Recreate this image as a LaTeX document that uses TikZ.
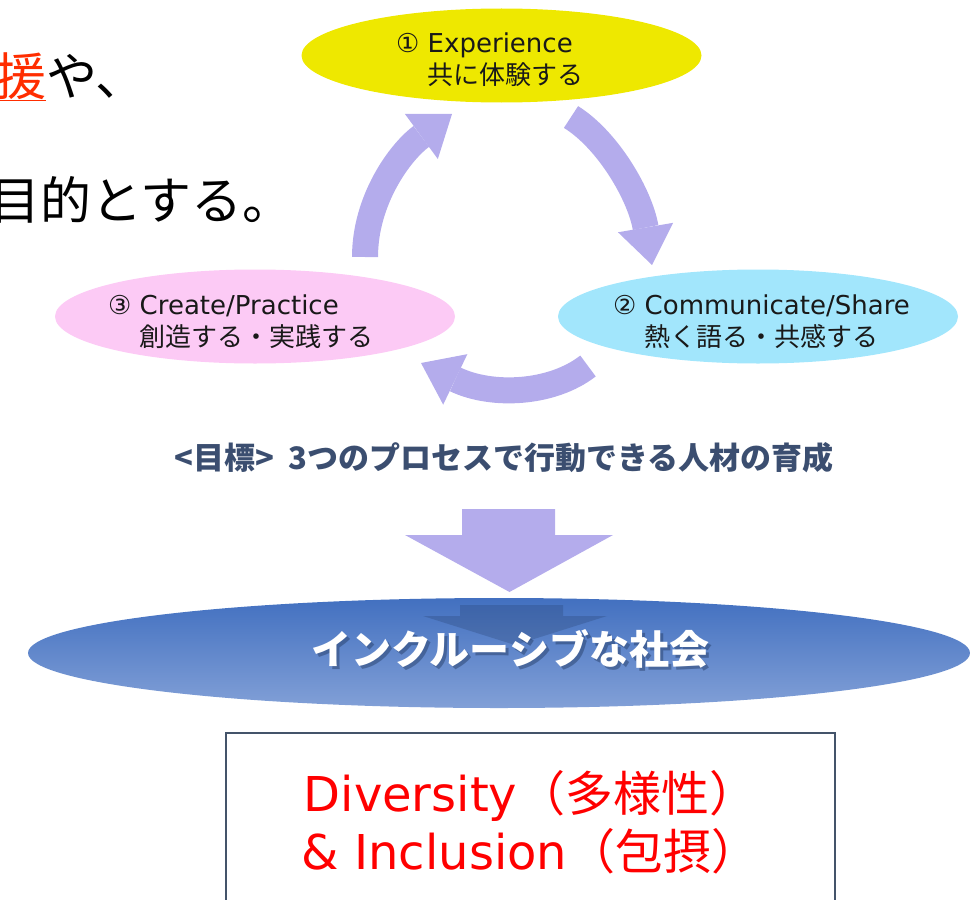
\documentclass[tikz,border=0pt]{standalone}
\usepackage{fontspec}
\usepackage{tikz}
\setmainfont{DejaVu Sans}
\newfontfamily\jp{Noto Sans CJK JP}
\usetikzlibrary{arrows.meta,
	calc,%
	positioning,
	shapes,
	shapes.geometric}
\definecolor{lav}{RGB}{180,172,236}
\definecolor{yel}{RGB}{238,232,0}
\definecolor{pnk}{RGB}{252,202,245}
\definecolor{cya}{RGB}{162,230,252}
\definecolor{navy}{RGB}{59,78,112}
\definecolor{slate}{RGB}{68,84,106}
\definecolor{redor}{RGB}{255,45,0}
\definecolor{btop}{RGB}{66,112,192}
\definecolor{bbot}{RGB}{130,160,215}
\tikzset{
	cyc/.style={ellipse, minimum width=400pt, minimum height=94pt, inner sep=0},
	cyctxt/.style={anchor=west, align=left, inner sep=0, text=black!90, font=\fontsize{26}{32}\selectfont},
	curv/.style={lav, line width=26pt, -{Triangle[length=38pt,width=56pt,line width=0pt]}},
	bigtxt/.style={inner sep=0, font=\jp\fontsize{51}{60}\selectfont, anchor=base east}
}
\begin{document}
\begin{tikzpicture}[x=1pt,y=-1pt]
	\useasboundingbox (0,0) rectangle (971,899);

	\node[bigtxt] (lineA) at (147,95) {\textcolor{redor}{\underline{援}}や、};
	\node[bigtxt] (lineB) at (294,219) {目的とする。};

	\node[cyc, fill=yel] (exp) at (501.5,55.5) {};
	\node[cyc, fill=cya] (com) at (758,316.5) {};
	\node[cyc, fill=pnk] (cre) at (255,316.5) {};
	\node[cyctxt] (exptxt) at (396,60) {① Experience\\\phantom{① }{\jp 共に体験する}};
	\node[cyctxt] (comtxt) at (613,322) {② Communicate/Share\\\phantom{② }{\jp 熱く語る・共感する}};
	\node[cyctxt] (cretxt) at (108,322) {③ Create/Practice\\\phantom{③ }{\jp 創造する・実践する}};

	\coordinate (up1) at (365,257);
	\coordinate (up2) at (452,114);
	\coordinate (dn1) at (571,117);
	\coordinate (dn2) at (652,265);
	\coordinate (lf1) at (588,366);
	\coordinate (lf2) at (421,363);
	\draw[curv] (up1) .. controls (365,200) and (400,152) .. (up2);
	\draw[curv] (dn1) .. controls (608,140) and (640,195) .. (dn2);
	\draw[curv] (lf1) .. controls (552,394) and (492,397) .. (lf2);

	\node[inner sep=0, text=navy, font=\jp\bfseries\fontsize{31}{37}\selectfont] (goal) at (504,457.5) {<目標>\ \ 3つのプロセスで行動できる人材の育成};

	\fill[lav] (462,509) -- (555,509) -- (555,535) -- (613,535) -- (509.5,592) -- (405,535) -- (462,535) -- cycle;

	\node[ellipse, minimum width=942pt, minimum height=110pt, inner sep=0, top color=btop, bottom color=bbot] (soc) at (499,653) {};
	\fill[btop!60!black, opacity=0.3] (460,605) -- (563,605) -- (563,616) -- (607,616) -- (515,645) -- (423,616) -- (460,616) -- cycle;
	\node[inner sep=0, text=btop!50!black, opacity=0.45, font=\jp\bfseries\fontsize{40}{48}\selectfont] (socsh) at (513,652) {インクルーシブな社会};
	\node[inner sep=0, text=white, font=\jp\bfseries\fontsize{40}{48}\selectfont] (soctxt) at (510,648.5) {インクルーシブな社会};

	\node[draw=slate, line width=2.5pt, minimum width=609pt, minimum height=178pt, inner sep=0, align=center, text=red, font=\fontsize{48}{58}\selectfont] (div) at (530.5,822) {Diversity{\jp （多様性）}\\\&\ Inclusion{\jp （包摂）}};
\end{tikzpicture}
\end{document}
